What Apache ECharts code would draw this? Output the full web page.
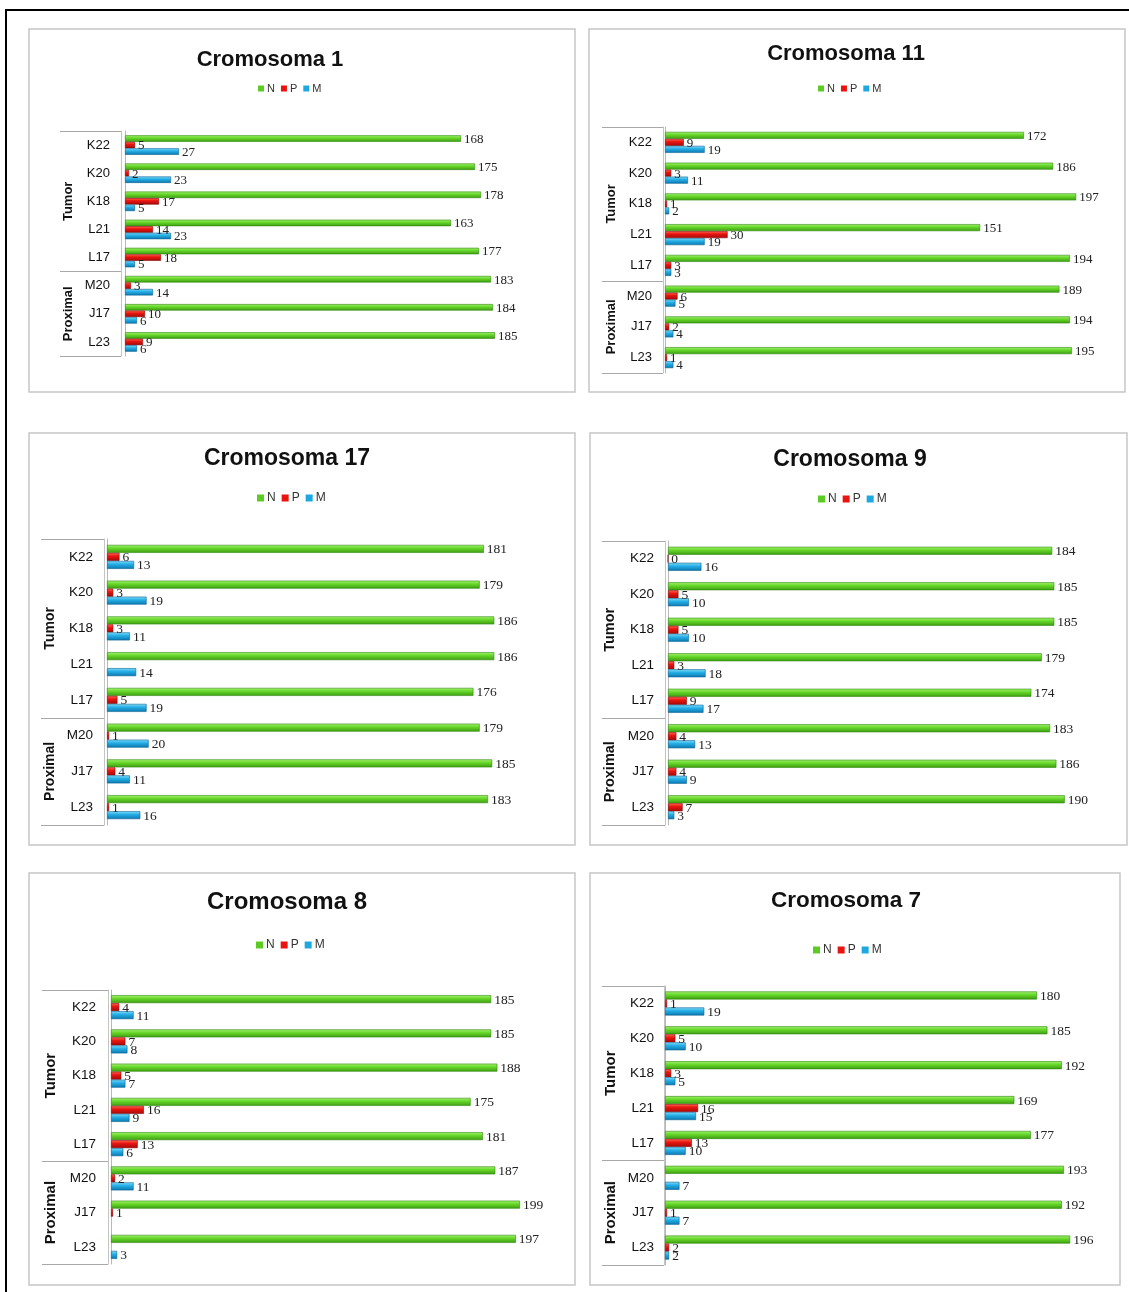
<!DOCTYPE html>
<html>
<head>
<meta charset="utf-8">
<script src="https://cdn.jsdelivr.net/npm/echarts@6/dist/echarts.min.js"></script>
<style>
  html, body { margin: 0; padding: 0; background: #fff; overflow: hidden; }
  #chart { width: 1129px; height: 1292px; }
</style>
</head>
<body>
<div id="chart"></div>
<script>
// Samples (top to bottom) and their groups
const categories = ['K22', 'K20', 'K18', 'L21', 'L17', 'M20', 'J17', 'L23'];
const groupNames = ['Tumor', 'Proximal'];
const groupSizes = [5, 3];
const seriesNames = ['N', 'P', 'M'];
const chartTitles = ['Cromosoma 1', 'Cromosoma 11', 'Cromosoma 17', 'Cromosoma 9', 'Cromosoma 8', 'Cromosoma 7'];

// Counts per sample: N, P, M
const crom1N = [168, 175, 178, 163, 177, 183, 184, 185];
const crom1P = [5, 2, 17, 14, 18, 3, 10, 9];
const crom1M = [27, 23, 5, 23, 5, 14, 6, 6];

const crom11N = [172, 186, 197, 151, 194, 189, 194, 195];
const crom11P = [9, 3, 1, 30, 3, 6, 2, 1];
const crom11M = [19, 11, 2, 19, 3, 5, 4, 4];

const crom17N = [181, 179, 186, 186, 176, 179, 185, 183];
const crom17P = [6, 3, 3, null, 5, 1, 4, 1];
const crom17M = [13, 19, 11, 14, 19, 20, 11, 16];

const crom9N = [184, 185, 185, 179, 174, 183, 186, 190];
const crom9P = [0, 5, 5, 3, 9, 4, 4, 7];
const crom9M = [16, 10, 10, 18, 17, 13, 9, 3];

const crom8N = [185, 185, 188, 175, 181, 187, 199, 197];
const crom8P = [4, 7, 5, 16, 13, 2, 1, null];
const crom8M = [11, 8, 7, 9, 6, 11, null, 3];

const crom7N = [180, 185, 192, 169, 177, 193, 192, 196];
const crom7P = [1, 5, 3, 16, 13, null, 1, 2];
const crom7M = [19, 10, 5, 15, 10, 7, 7, 2];

const panelValues = [
  [crom1N, crom1P, crom1M],
  [crom11N, crom11P, crom11M],
  [crom17N, crom17P, crom17M],
  [crom9N, crom9P, crom9M],
  [crom8N, crom8P, crom8M],
  [crom7N, crom7P, crom7M]
];

// Panel geometry (px)
const panels = [
  { box: [29, 29, 546, 363],  tx: 270, ty: 60,  tSize: 22,   lx: 258, ly: 90,  lSize: 11, lIcon: 6,
    gl: 125, gt: 131, gh: 225, scale: 2.0,   bw: 6.5, catMargin: 15, catSize: 13,   grpOff: 4, tick: 61, grpMargin: 53, grpSize: 13, valSize: 13 },
  { box: [589, 29, 536, 363], tx: 846, ty: 54,  tSize: 22,   lx: 818, ly: 90,  lSize: 11, lIcon: 6,
    gl: 665, gt: 127, gh: 246, scale: 2.087, bw: 7,   catMargin: 13, catSize: 13,   grpOff: 2, tick: 61, grpMargin: 52, grpSize: 13, valSize: 13 },
  { box: [29, 433, 546, 412], tx: 287, ty: 459, tSize: 23,   lx: 257, ly: 499, lSize: 12, lIcon: 7,
    gl: 107, gt: 539, gh: 286, scale: 2.082, bw: 8,   catMargin: 14, catSize: 13.5, grpOff: 3, tick: 63, grpMargin: 54, grpSize: 14, valSize: 13.5 },
  { box: [590, 433, 537, 412], tx: 850, ty: 460, tSize: 23,   lx: 818, ly: 500, lSize: 12, lIcon: 7,
    gl: 668, gt: 541, gh: 284, scale: 2.088, bw: 8,   catMargin: 14, catSize: 13.5, grpOff: 3, tick: 63, grpMargin: 55, grpSize: 14.5, valSize: 13.5 },
  { box: [29, 873, 546, 412], tx: 287, ty: 902, tSize: 24,   lx: 256, ly: 946, lSize: 12, lIcon: 7,
    gl: 111, gt: 990, gh: 274, scale: 2.055, bw: 8,   catMargin: 15, catSize: 13.5, grpOff: 3, tick: 66, grpMargin: 57, grpSize: 15, valSize: 13.5 },
  { box: [590, 873, 530, 412], tx: 846, ty: 901, tSize: 22.5, lx: 813, ly: 951, lSize: 12, lIcon: 7,
    gl: 665, gt: 986, gh: 279, scale: 2.067, bw: 8,   catMargin: 11, catSize: 13.5, grpOff: 1, tick: 62, grpMargin: 53, grpSize: 15, valSize: 13.5 }
];

const VALUE_MAX = 200;

// Cylinder-like shading across each bar's thickness
function shade(c0, c1, c2) {
  return new echarts.graphic.LinearGradient(0, 0, 0, 1, [
    { offset: 0, color: c0 }, { offset: 0.4, color: c1 }, { offset: 1, color: c2 }
  ]);
}
const barFills = [
  shade('#a8f078', '#68da2a', '#3c9a12'),
  shade('#ff6a5a', '#ea1610', '#a30808'),
  shade('#8adef8', '#26b0e8', '#0b76ae')
];
const barEdges = ['#2f8a0c', '#8c0505', '#0a6496'];
const legendColors = ['#5ccc24', '#e8140f', '#1ea8e0'];

// index of the category that sits in the middle of each group
const groupLabelAt = {};
const groupStarts = [];
let start = 0;
groupSizes.forEach((size, g) => {
  groupStarts.push(start);
  groupLabelAt[start + Math.floor(size / 2)] = groupNames[g];
  start += size;
});

const option = {
  animation: false,
  backgroundColor: '#ffffff',
  title: [], legend: [], grid: [], xAxis: [], yAxis: [], series: [],
  graphic: [
    { type: 'line', shape: { x1: 6, y1: 10, x2: 6, y2: 1292 }, style: { stroke: '#000', lineWidth: 2 } },
    { type: 'line', shape: { x1: 5, y1: 10, x2: 1129, y2: 10 }, style: { stroke: '#000', lineWidth: 2 } }
  ]
};

panels.forEach((p, i) => {
  option.graphic.push({
    type: 'rect',
    shape: { x: p.box[0], y: p.box[1], width: p.box[2], height: p.box[3] },
    style: { fill: 'transparent', stroke: '#c6c6c6', lineWidth: 1.5 },
    silent: true
  });

  option.title.push({
    text: chartTitles[i],
    left: p.tx, top: p.ty,
    textAlign: 'center', textVerticalAlign: 'middle',
    padding: 0,
    textStyle: { fontFamily: 'Liberation Sans, Arial, sans-serif', fontWeight: 'bold', fontSize: p.tSize, color: '#111' }
  });

  option.legend.push({
    data: seriesNames.map((n, k) => ({ name: n, itemStyle: { color: legendColors[k], borderWidth: 0 } })),
    left: p.lx, top: p.ly - 7,
    padding: 0,
    icon: 'rect',
    itemWidth: p.lIcon, itemHeight: p.lIcon, itemGap: 6,
    selectedMode: false,
    textStyle: { fontFamily: 'Liberation Sans, Arial, sans-serif', fontSize: p.lSize, color: '#333', padding: [0, 0, 0, -2] }
  });

  option.grid.push({ left: p.gl, top: p.gt, width: VALUE_MAX * p.scale, height: p.gh, containLabel: false });

  option.xAxis.push({ type: 'value', gridIndex: i, min: 0, max: VALUE_MAX, show: false });

  // sample names
  option.yAxis.push({
    type: 'category', gridIndex: i, data: categories, inverse: true, position: 'left',
    axisLine: { show: true, lineStyle: { color: '#b8b8b8', width: 1 } },
    axisTick: { show: false },
    axisLabel: {
      interval: 0, margin: p.catMargin,
      fontFamily: 'Liberation Sans, Arial, sans-serif', fontSize: p.catSize, color: '#111'
    },
    splitLine: { show: false }
  });

  // group names with divider ticks
  option.yAxis.push({
    type: 'category', gridIndex: i, data: categories, inverse: true, position: 'left', offset: p.grpOff,
    axisLine: { show: true, lineStyle: { color: '#c4c4c4', width: 1 } },
    axisTick: {
      show: true, length: p.tick,
      interval: (idx) => groupStarts.indexOf(idx) !== -1,
      lineStyle: { color: '#a8a8a8', width: 1 }
    },
    axisLabel: {
      interval: 0, rotate: 90, margin: p.grpMargin,
      align: 'center', verticalAlign: 'middle',
      formatter: (v, idx) => groupLabelAt[idx] || '',
      fontFamily: 'Liberation Sans, Arial, sans-serif', fontWeight: 'bold', fontSize: p.grpSize, color: '#111'
    },
    splitLine: { show: false }
  });

  seriesNames.forEach((name, k) => {
    option.series.push({
      type: 'bar', name: name,
      xAxisIndex: i, yAxisIndex: 2 * i,
      data: panelValues[i][k],
      barWidth: p.bw, barGap: '0%',
      itemStyle: { color: barFills[k], borderColor: barEdges[k], borderWidth: 0.6 },
      label: {
        show: true, position: 'right', distance: 3, offset: [0, 1],
        fontFamily: 'Liberation Serif, Times New Roman, serif', fontSize: p.valSize, color: '#222'
      }
    });
  });
});

const chart = echarts.init(document.getElementById('chart'), null, { renderer: 'canvas' });
chart.setOption(option);
</script>
</body>
</html>
